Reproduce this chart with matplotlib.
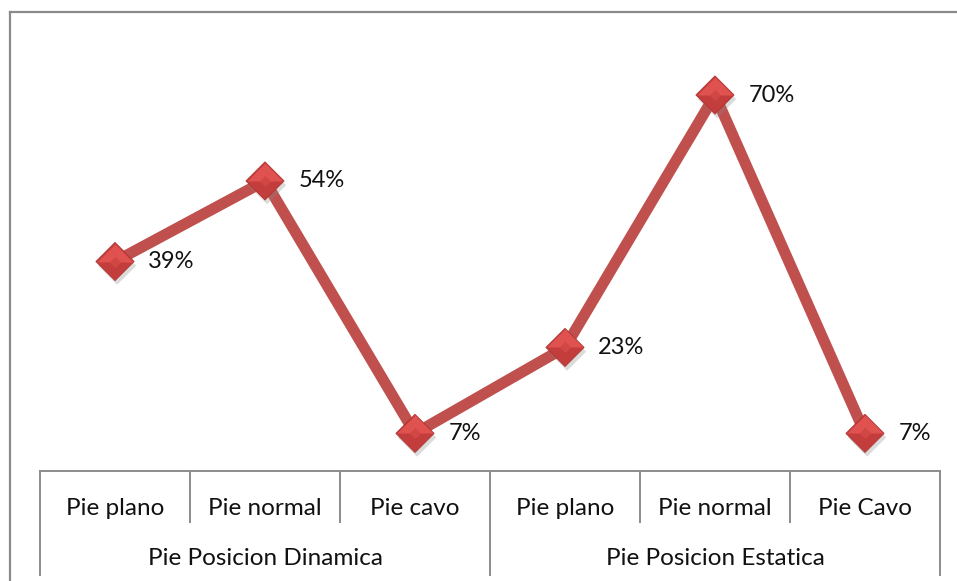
import matplotlib
matplotlib.use("Agg")
import matplotlib.pyplot as plt
from matplotlib.path import Path
from matplotlib.lines import Line2D
import matplotlib.patheffects as pe

plt.rcParams['font.family'] = ['Lato', 'DejaVu Sans']

# Data
categories = ["Pie plano", "Pie normal", "Pie cavo", "Pie plano", "Pie normal", "Pie Cavo"]
groups = ["Pie Posicion Dinamica", "Pie Posicion Estatica"]
group_sizes = [3, 3]
values = [39, 54, 7, 23, 70, 7]

W, H = 957, 581
fig = plt.figure(figsize=(W / 100, H / 100), dpi=100)
fig.patch.set_facecolor("white")

# plot area in pixel terms
left_px, right_px, bottom_px = 40, 940, 471
ymax = 80
px_per_unit = (471 - 95) / 70.0
top_px = bottom_px - ymax * px_per_unit
ax = fig.add_axes([left_px / W, 1 - bottom_px / H, (right_px - left_px) / W,
                   (bottom_px - top_px) / H])
ax.set_xlim(-0.5, len(values) - 0.5)
ax.set_ylim(0, ymax)
for s in ["top", "right", "left"]:
    ax.spines[s].set_visible(False)
ax.spines["bottom"].set_color("#8c8c8c")
ax.spines["bottom"].set_linewidth(1.4)
ax.set_xticks([])
ax.set_yticks([])
ax.patch.set_alpha(0)

x = list(range(len(values)))
ax.plot(x, values, color="#C0504D", lw=8.0, solid_capstyle="butt",
        solid_joinstyle="miter", zorder=2)

# diamond markers: darker base, lighter upper half, soft shadow
diamond = Path([(0, 1), (1, 0), (0, -1), (-1, 0), (0, 1)],
               [Path.MOVETO, Path.LINETO, Path.LINETO, Path.LINETO, Path.CLOSEPOLY])
ms = 27.5
ax.plot(x, values, ls="none", marker=diamond, ms=ms, mfc="#C23D3B", mec="#B03533",
        mew=0.6, zorder=3,
        path_effects=[pe.SimplePatchShadow(offset=(1.5, -3), shadow_rgbFace="#888888",
                                           alpha=0.3), pe.Normal()])
hl = Path([(0, 1), (1, 0), (0, 0), (-1, 0), (0, 1)],
          [Path.MOVETO, Path.LINETO, Path.LINETO, Path.LINETO, Path.CLOSEPOLY])
ax.scatter(x, values, marker=hl, s=(ms * 0.94) ** 2, c="#E0524F", linewidths=0,
           zorder=4)
ax.scatter(x, values, marker=Path([(0, 0.3), (0.3, 0), (0, -0.3), (-0.3, 0), (0, 0.3)]),
           s=(ms * 0.3) ** 2, c="#D14744", linewidths=0, zorder=5)

for xi, v in zip(x, values):
    ax.annotate(f"{v}%", (xi, v), xytext=(24, 0), textcoords="offset points",
                ha="left", va="center", fontsize=17, color="#111111", zorder=6)

# hierarchical category axis
trans = ax.get_xaxis_transform()
ax_h = bottom_px - top_px


def frac(py):
    return (bottom_px - py) / ax_h


sep_color = "#8c8c8c"
n = len(categories)
bounds = [i - 0.5 for i in range(n + 1)]
group_edges = [-0.5]
for g in group_sizes:
    group_edges.append(group_edges[-1] + g)
for b in bounds:
    long = any(abs(b - e) < 1e-9 for e in group_edges)
    y_end = 575 if long else 522
    ax.add_line(Line2D([b, b], [0, frac(y_end)], transform=trans, color=sep_color,
                       lw=1.4, clip_on=False))
for xi, c in enumerate(categories):
    ax.text(xi, frac(515), c, transform=trans, ha="center", va="baseline",
            fontsize=17.5, color="#111111")
start = 0
for g, size in zip(groups, group_sizes):
    ax.text(start + (size - 1) / 2, frac(565), g, transform=trans, ha="center",
            va="baseline", fontsize=17.5, color="#111111")
    start += size

# chart frame (continues past the canvas edges)
fig.add_artist(Line2D([9.5 / W, 9.5 / W], [0, 1 - 11.5 / H], transform=fig.transFigure,
                      color="#8a8a8a", lw=1.6))
fig.add_artist(Line2D([9.5 / W, 1], [1 - 11.5 / H, 1 - 11.5 / H],
                      transform=fig.transFigure, color="#8a8a8a", lw=1.6))

fig.savefig("out.png", dpi=100, facecolor="white")
